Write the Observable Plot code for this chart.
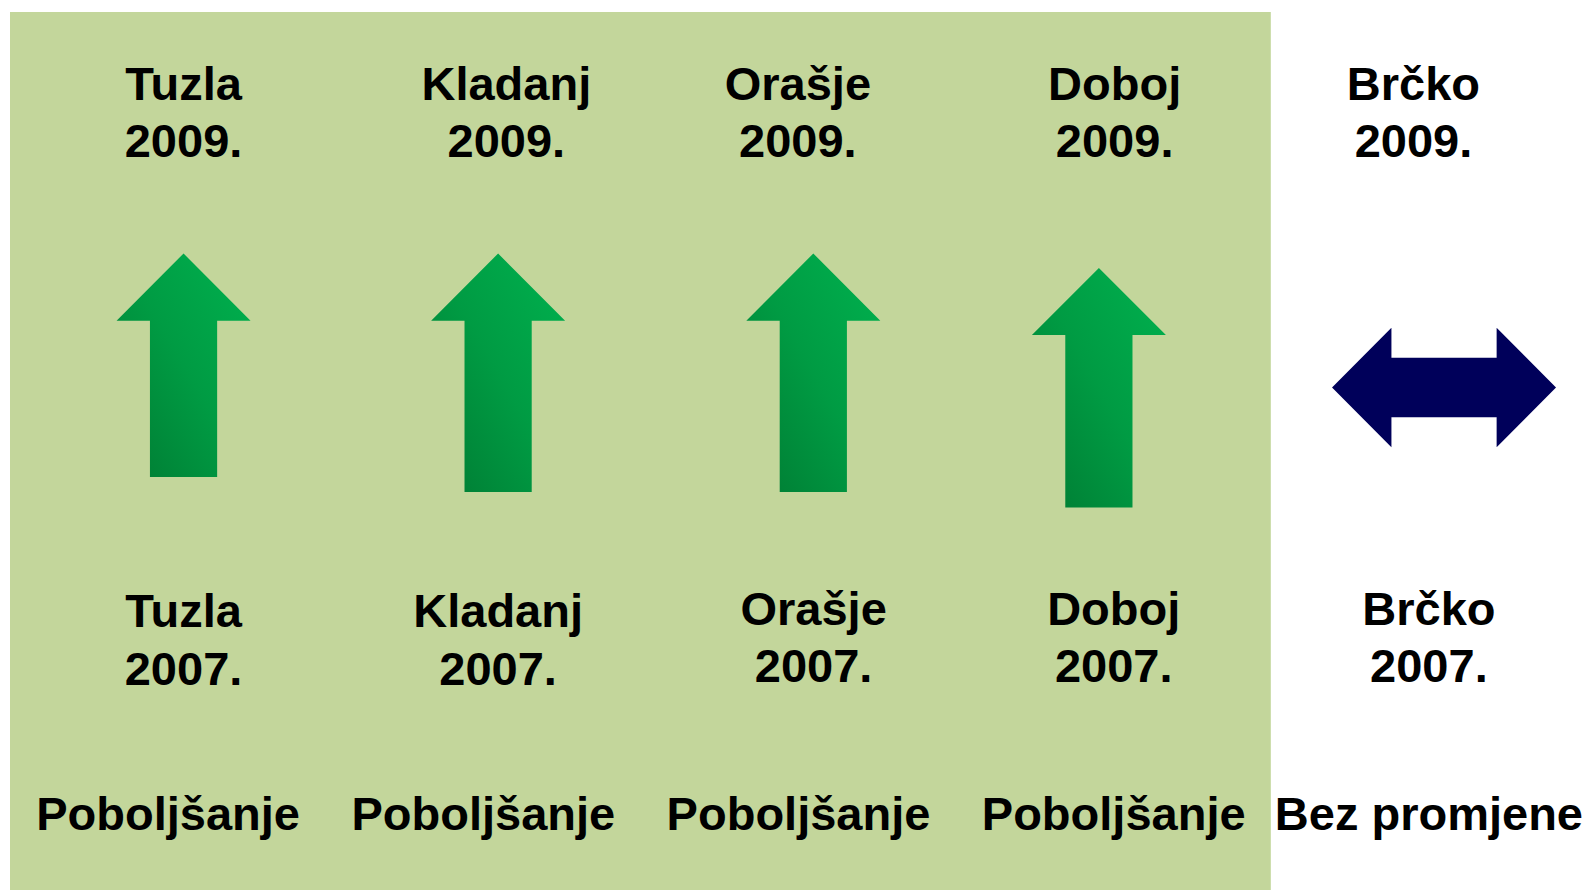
<!DOCTYPE html>
<html>
<head>
<meta charset="utf-8">
<script src="https://cdn.jsdelivr.net/npm/d3@7"></script>
<script src="https://cdn.jsdelivr.net/npm/@observablehq/plot@0.6"></script>
<style>
  html, body { margin: 0; padding: 0; background: #ffffff; overflow: hidden; }
  #chart svg { display: block; max-width: none; }
</style>
</head>
<body>
<div id="chart"></div>
<script>
// ---- data ----
const cities = ["Tuzla", "Kladanj", "Orašje", "Doboj", "Brčko"];
const yearAfter = ["2009.", "2009.", "2009.", "2009.", "2009."];
const yearBefore = ["2007.", "2007.", "2007.", "2007.", "2007."];
const status = ["Poboljšanje", "Poboljšanje", "Poboljšanje", "Poboljšanje", "Bez promjene"];
const trend = ["up", "up", "up", "up", "same"];
// arrow placement in layout units (x: column index, y: slide points from top)
const arrowCol = [0.549, 1.547, 2.547, 3.453, 4.548];
const arrowTip = [253, 253, 253, 267.4, 387];
const arrowBase = [476.5, 491.5, 491.5, 507, 387];
const afterCol = [0.549, 1.573, 2.498, 3.503, 4.451];
const beforeCol = [0.549, 1.547, 2.548, 3.5, 4.5];
const beforeLine = [684, 684, 681.7, 681.7, 681.7];
const statusCol = [0.5, 1.5, 2.5, 3.5, 4.5];

// ---- layout constants ----
const W = 1589, H = 890;
const colPx = 315.2;          // px per column unit
const afterLine = 156.7, statusLine = 829;
const panel = {x1: 0, x2: 4, y1: 12, y2: H};
const headLen = 67.2, headHalf = 67, shaftHalf = 33.6;      // up arrow (px)
const dHalfLen = 112, dHeadLen = 59.4, dHeadHalf = 59.7, dShaftHalf = 29.7; // double arrow (px)

const rows = cities.map((c, i) => ({
  city: c, after: yearAfter[i], before: yearBefore[i], status: status[i], trend: trend[i],
  col: arrowCol[i], tip: arrowTip[i], base: arrowBase[i],
  afterCol: afterCol[i], beforeCol: beforeCol[i], beforeLine: beforeLine[i], statusCol: statusCol[i]
}));

// polygon outlines built from the arrow data
const upPts = [], samePts = [];
rows.forEach(r => {
  const c = r.col, u = v => v / colPx;
  if (r.trend === "up") {
    const hb = r.tip + headLen;
    [[c, r.tip], [c + u(headHalf), hb], [c + u(shaftHalf), hb], [c + u(shaftHalf), r.base],
     [c - u(shaftHalf), r.base], [c - u(shaftHalf), hb], [c - u(headHalf), hb], [c, r.tip]]
      .forEach(([x, y]) => upPts.push({city: r.city, x, y}));
  } else {
    const y = r.tip, L = u(dHalfLen), h = u(dHalfLen - dHeadLen);
    [[c - L, y], [c - h, y - dHeadHalf], [c - h, y - dShaftHalf], [c + h, y - dShaftHalf],
     [c + h, y - dHeadHalf], [c + L, y], [c + h, y + dHeadHalf], [c + h, y + dShaftHalf],
     [c - h, y + dShaftHalf], [c - h, y + dHeadHalf], [c - L, y]]
      .forEach(([x, yy]) => samePts.push({city: r.city, x, y: yy}));
  }
});

function defs() {
  const ns = "http://www.w3.org/2000/svg";
  const d = document.createElementNS(ns, "defs");
  const g = document.createElementNS(ns, "linearGradient");
  g.setAttribute("id", "upGrad");
  g.setAttribute("x1", "1"); g.setAttribute("y1", "0");
  g.setAttribute("x2", "0"); g.setAttribute("y2", "1");
  [["0", "#00b24f"], ["0.5", "#009b43"], ["1", "#007a32"]].forEach(([o, c]) => {
    const s = document.createElementNS(ns, "stop");
    s.setAttribute("offset", o); s.setAttribute("stop-color", c);
    g.appendChild(s);
  });
  d.appendChild(g);
  return d;
}

const font = {fontFamily: "'Liberation Sans', Arial, sans-serif", fontSize: 47, fontWeight: "bold", fill: "#000000"};

const chart = Plot.plot({
  width: W, height: H,
  margin: 0,
  style: {background: "transparent", overflow: "visible"},
  x: {type: "linear", domain: [0, 5], range: [10, 10 + 5 * colPx], axis: null},
  y: {type: "linear", domain: [0, H], range: [0, H], axis: null},
  marks: [
    defs,
    Plot.rect([panel], {x1: "x1", x2: "x2", y1: "y1", y2: "y2", fill: "#c3d69b"}),
    Plot.line(upPts, {x: "x", y: "y", z: "city", fill: "url(#upGrad)", stroke: "none", curve: "linear"}),
    Plot.line(samePts, {x: "x", y: "y", z: "city", fill: "#00005a", stroke: "none", curve: "linear"}),
    Plot.text(rows, {x: "afterCol", y: () => afterLine, text: d => d.city + "\n" + d.after,
      lineAnchor: "bottom", lineHeight: 1.221, textAnchor: "middle", ...font}),
    Plot.text(rows, {x: "beforeCol", y: "beforeLine", text: d => d.city + "\n" + d.before,
      lineAnchor: "bottom", lineHeight: 1.221, textAnchor: "middle", ...font}),
    Plot.text(rows, {x: "statusCol", y: () => statusLine, text: "status",
      lineAnchor: "bottom", textAnchor: "middle", ...font})
  ]
});
document.getElementById("chart").appendChild(chart);
</script>
</body>
</html>
